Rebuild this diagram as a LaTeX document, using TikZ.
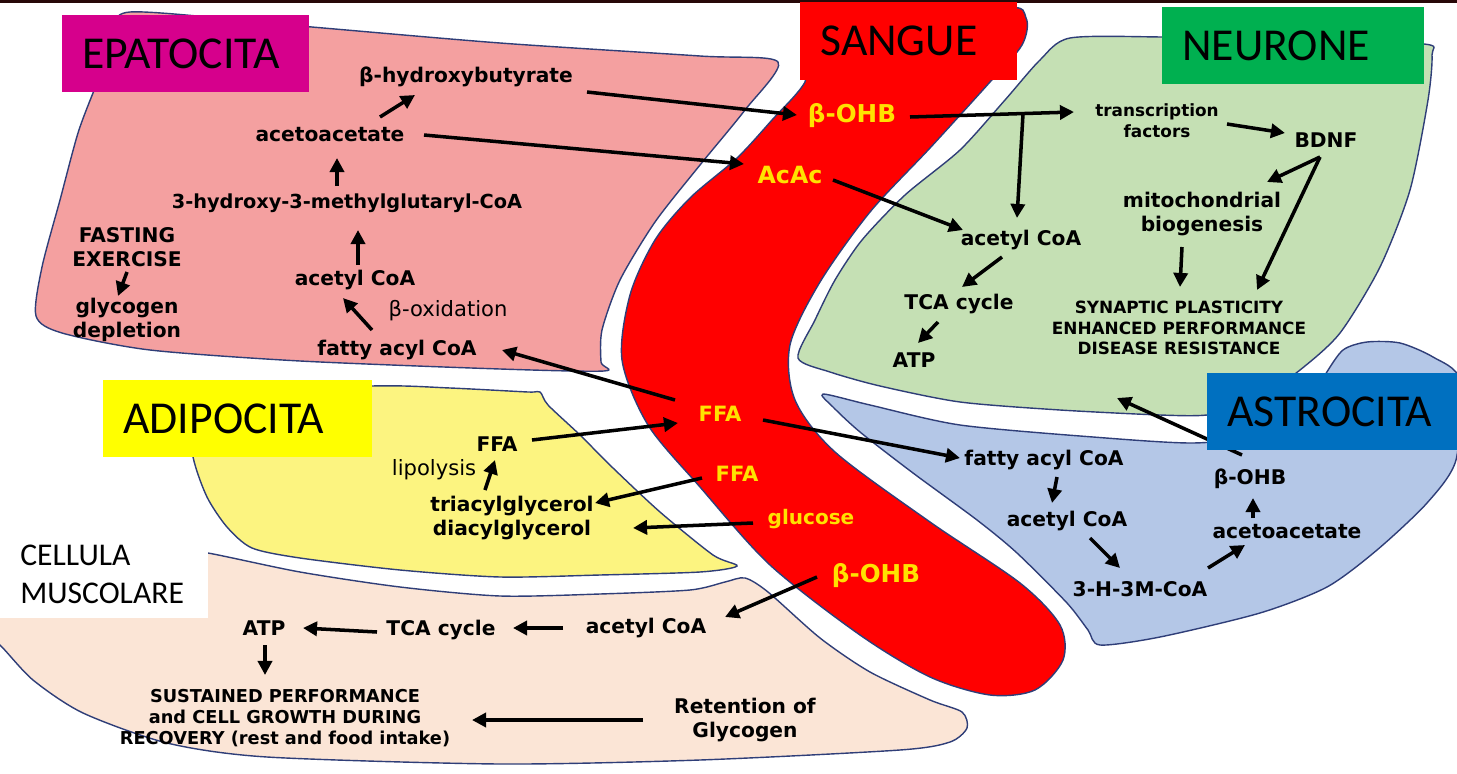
\documentclass[tikz,border=0pt]{standalone}
\usepackage{fontspec}
\setmainfont{DejaVu Sans}
\newfontfamily\lblfont{Carlito}
\usepackage{tikz}
\usetikzlibrary{arrows.meta}
\definecolor{hepa}{RGB}{244,160,160}
\definecolor{blood}{RGB}{255,0,0}
\definecolor{neuro}{RGB}{197,224,180}
\definecolor{astro}{RGB}{180,199,231}
\definecolor{adipo}{RGB}{252,244,128}
\definecolor{muscle}{RGB}{251,229,214}
\definecolor{cellline}{RGB}{47,62,120}
\definecolor{bloodtxt}{RGB}{255,226,0}
\definecolor{lblmag}{RGB}{214,0,140}
\definecolor{lblgreen}{RGB}{0,176,80}
\definecolor{lblblue}{RGB}{0,112,192}
\definecolor{lblyellow}{RGB}{255,255,0}
\definecolor{topbar}{RGB}{40,8,8}
\tikzset{
  cell/.style={draw=cellline, line width=0.8pt},
  txt/.style={font=\bfseries\fontsize{11.5}{13.6}\selectfont, align=center, inner sep=1pt},
  sml/.style={font=\bfseries\fontsize{9.6}{11.8}\selectfont, align=center, inner sep=1pt},
  reg/.style={font=\fontsize{12}{14}\selectfont, inner sep=1pt},
  btxt/.style={font=\bfseries\fontsize{12}{14}\selectfont, text=bloodtxt, inner sep=1pt},
  arr/.style={-{Triangle[length=8pt,width=8pt]}, line width=2pt},
  lbl/.style={anchor=north west, inner xsep=0.4cm, inner ysep=0pt, align=left, font=\lblfont\fontsize{26}{30}\selectfont},
}

\begin{document}
\begin{tikzpicture}[x=0.02cm, y=-0.02cm]
  \useasboundingbox (0,0) rectangle (1457,774);
  \fill[topbar] (0,0) rectangle (1457,3);
  \filldraw[cell, fill=hepa] plot[smooth cycle, tension=0.45] coordinates {
    (130,12) (300,26) (500,43) (700,56) (778,62) (745,110) (700,165) (655,222)
    (620,280) (602,330) (601,362) (604,371) (500,369) (300,361) (150,350)
    (62,333) (36,316) (42,267) (60,200) (78,133) (95,88) (115,40)};
  \filldraw[cell, fill=adipo] plot[smooth cycle, tension=0.45] coordinates {
    (185,395) (372,386) (450,388) (528,392) (540,392) (548,405) (580,435)
    (613,468) (660,512) (713,555) (737,566) (700,572) (600,575) (500,577)
    (400,570) (300,558) (252,548) (227,527) (207,497) (193,457)};
  \filldraw[cell, fill=muscle] plot[smooth cycle, tension=0.45] coordinates {
    (-20,560) (150,545) (208,553) (300,572) (400,587) (500,596) (600,594)
    (690,590) (725,582) (745,578) (768,592) (820,638) (870,672) (930,700)
    (962,712) (967,728) (950,742) (900,750) (700,760) (500,764) (267,757)
    (167,743) (83,713) (33,680) (0,645) (-20,630)};
  \filldraw[cell, fill=neuro] plot[smooth cycle, tension=0.45] coordinates {
    (1070,38) (1162,37) (1300,40) (1424,44) (1432,55) (1428,100) (1410,190)
    (1380,267) (1340,333) (1300,370) (1250,405) (1207,415) (1160,415)
    (1060,410) (960,402) (880,386) (830,372) (798,358) (815,320) (835,280)
    (862,240) (905,195) (960,150) (1005,100) (1040,60)};
  \filldraw[cell, fill=astro] plot[smooth cycle, tension=0.45] coordinates {
    (823,394) (870,405) (960,425) (1093,437) (1193,443) (1260,435) (1305,410)
    (1325,375) (1343,350) (1367,342) (1400,343) (1433,357) (1460,380)
    (1456,460) (1427,503) (1377,550) (1327,587) (1260,613) (1160,637)
    (1100,645) (1088,630) (1067,603) (1017,553) (977,520) (913,473)
    (860,432) (833,407)};
  \filldraw[cell, fill=blood] plot[smooth cycle, tension=0.5] coordinates {
    (815,40) (1000,8) (1026,18) (1022,45) (990,82) (930,148) (870,212)
    (820,282) (790,345) (795,400) (835,452) (930,522) (1020,583) (1060,625)
    (1063,660) (1035,690) (990,695) (930,677) (860,635) (770,565) (700,487)
    (648,425) (622,360) (630,295) (655,240) (690,198) (737,158) (772,120)
    (805,82)};

  \node[txt] (bhbL) at (466,77) {β-hydroxybutyrate};
  \node[txt] (acet) at (330,135) {acetoacetate};
  \node[txt, font=\bfseries\fontsize{11}{13}\selectfont] (hmg) at (347,203) {3-hydroxy-3-methylglutaryl-CoA};
  \node[txt] (fast) at (127,247) {FASTING\\EXERCISE};
  \node[txt] (glyc) at (127,320) {glycogen\\depletion};
  \node[txt] (acoaL) at (355,280) {acetyl CoA};
  \node[reg] (boxi) at (448,311) {β-oxidation};
  \node[txt] (facL) at (397,350) {fatty acyl CoA};

  \node[btxt, font=\bfseries\fontsize{14}{16}\selectfont] (bohb1) at (852,116) {β-OHB};
  \node[btxt, font=\bfseries\fontsize{13.5}{16}\selectfont] (acac) at (790,175) {AcAc};
  \node[btxt] (ffa1) at (720,414) {FFA};
  \node[btxt] (ffa2) at (737,474) {FFA};
  \node[btxt, font=\bfseries\fontsize{11.4}{14}\selectfont] (gluc) at (811,519) {glucose};
  \node[btxt, font=\bfseries\fontsize{14}{16}\selectfont] (bohb2) at (876,576) {β-OHB};

  \node[sml] (tf) at (1157,121) {transcription\\factors};
  \node[txt] (bdnf) at (1326,140) {BDNF};
  \node[txt] (mito) at (1202,214) {mitochondrial\\biogenesis};
  \node[txt] (acoaN) at (1021,240) {acetyl CoA};
  \node[txt] (tcaN) at (959,304) {TCA cycle};
  \node[txt] (atpN) at (914,360) {ATP};
  \node[sml] (syn) at (1179,328) {SYNAPTIC PLASTICITY\\ENHANCED PERFORMANCE\\DISEASE RESISTANCE};
  \coordinate (junc) at (1023,114);

  \node[txt] (facA) at (1044,460) {fatty acyl CoA};
  \node[txt] (acoaA) at (1067,521) {acetyl CoA};
  \node[txt] (hmgA) at (1140,589) {3-H-3M-CoA};
  \node[txt] (aaA) at (1287,532) {acetoacetate};
  \node[txt] (bohbA) at (1250,479) {β-OHB};
  \coordinate (neur) at (1117,398);

  \node[txt] (ffaA) at (497,444) {FFA};
  \node[reg] (lipo) at (434,470) {lipolysis};
  \node[txt] (tag) at (512,518) {triacylglycerol\\diacylglycerol};

  \node[txt] (atpM) at (264,628) {ATP};
  \node[txt] (tcaM) at (441,630) {TCA cycle};
  \node[txt] (acoaM) at (646,628) {acetyl CoA};
  \node[sml, font=\bfseries\fontsize{10.1}{12}\selectfont] (sus) at (285,718) {SUSTAINED PERFORMANCE\\and CELL GROWTH DURING\\RECOVERY (rest and food intake)};
  \node[txt] (ret) at (745,720) {Retention of\\Glycogen};

  \draw[arr] ([shift={(50,-18)}]acet.center) -- ([shift={(-51,18)}]bhbL.center);
  \draw[arr] ([shift={(-10,-17)}]hmg.center) -- ([shift={(7,23)}]acet.center);
  \draw[arr] ([shift={(3,-15)}]acoaL.center) -- ([shift={(11,27)}]hmg.center);
  \draw[arr] ([shift={(-25,-20)}]facL.center) -- ([shift={(-12,18)}]acoaL.center);
  \draw[arr] ([shift={(0,25)}]fast.center) -- ([shift={(-9,-24)}]glyc.center);
  \draw[arr] ([shift={(121,15)}]bhbL.center) -- ([shift={(-55,-1)}]bohb1.center);
  \draw[arr] ([shift={(94,0)}]acet.center) -- ([shift={(-46,-11)}]acac.center);
  \draw[arr] ([shift={(-45,-14)}]ffa1.center) -- ([shift={(105,0)}]facL.center);

  \draw[arr] ([shift={(58,1)}]bohb1.center) -- ([shift={(-83,-9)}]tf.center);
  \draw[arr] (junc) -- ([shift={(-4,-22)}]acoaN.center);
  \draw[arr] ([shift={(43,5)}]acac.center) -- ([shift={(-58,-10)}]acoaN.center);
  \draw[arr] ([shift={(70,3)}]tf.center) -- ([shift={(-41,-7)}]bdnf.center);
  \draw[arr] ([shift={(-6,17)}]bdnf.center) -- ([shift={(65,-32)}]mito.center);
  \draw[arr] ([shift={(-6,17)}]bdnf.center) -- ([shift={(78,-38)}]syn.center);
  \draw[arr] ([shift={(-20,33)}]mito.center) -- ([shift={(1,-41)}]syn.center);
  \draw[arr] ([shift={(-19,17)}]acoaN.center) -- ([shift={(3,-17)}]tcaN.center);
  \draw[arr] ([shift={(-21,18)}]tcaN.center) -- ([shift={(4,-17)}]atpN.center);

  \draw[arr] ([shift={(43,6)}]ffa1.center) -- ([shift={(-84,-2)}]facA.center);
  \draw[arr] ([shift={(13,17)}]facA.center) -- ([shift={(-15,-18)}]acoaA.center);
  \draw[arr] ([shift={(23,17)}]acoaA.center) -- ([shift={(-20,-21)}]hmgA.center);
  \draw[arr] ([shift={(68,-21)}]hmgA.center) -- ([shift={(-42,13)}]aaA.center);
  \draw[arr] ([shift={(-34,-14)}]aaA.center) -- ([shift={(3,19)}]bohbA.center);
  \draw[arr] ([shift={(-8,-24)}]bohbA.center) -- (neur);

  \draw[arr] ([shift={(35,-4)}]ffaA.center) -- ([shift={(-42,9)}]ffa1.center);
  \draw[arr] ([shift={(-27,-28)}]tag.center) -- ([shift={(-2,16)}]ffaA.center);
  \draw[arr] ([shift={(-35,4)}]ffa2.center) -- ([shift={(83,-15)}]tag.center);
  \draw[arr] ([shift={(-58,4)}]gluc.center) -- ([shift={(121,10)}]tag.center);

  \draw[arr] ([shift={(-59,1)}]bohb2.center) -- ([shift={(79,-11)}]acoaM.center);
  \draw[arr] ([shift={(-83,0)}]acoaM.center) -- ([shift={(72,-2)}]tcaM.center);
  \draw[arr] ([shift={(-64,2)}]tcaM.center) -- ([shift={(39,0)}]atpM.center);
  \draw[arr] ([shift={(1,17)}]atpM.center) -- ([shift={(-20,-43)}]sus.center);
  \draw[arr] ([shift={(-102,0)}]ret.center) -- ([shift={(187,2)}]sus.center);

  \node[lbl, fill=lblmag, text width=4.14cm, minimum height=1.54cm] (epato) at (62,15) {EPATOCITA};
  \node[lbl, fill=blood, text width=3.54cm, minimum height=1.56cm] (sangue) at (800,2) {SANGUE};
  \node[lbl, fill=lblgreen, text width=4.44cm, minimum height=1.54cm] (neurone) at (1162,7) {NEURONE};
  \node[lbl, fill=lblyellow, text width=4.58cm, minimum height=1.54cm] (adipo) at (103,380) {ADIPOCITA};
  \node[lbl, fill=lblblue, text width=4.2cm, minimum height=1.54cm] (astro) at (1207,373) {ASTROCITA};
  \node[lbl, fill=white, text width=3.36cm, minimum height=1.76cm, font=\lblfont\fontsize{18}{22}\selectfont] (musc) at (0,530) {CELLULA\\MUSCOLARE};
\end{tikzpicture}
\end{document}
